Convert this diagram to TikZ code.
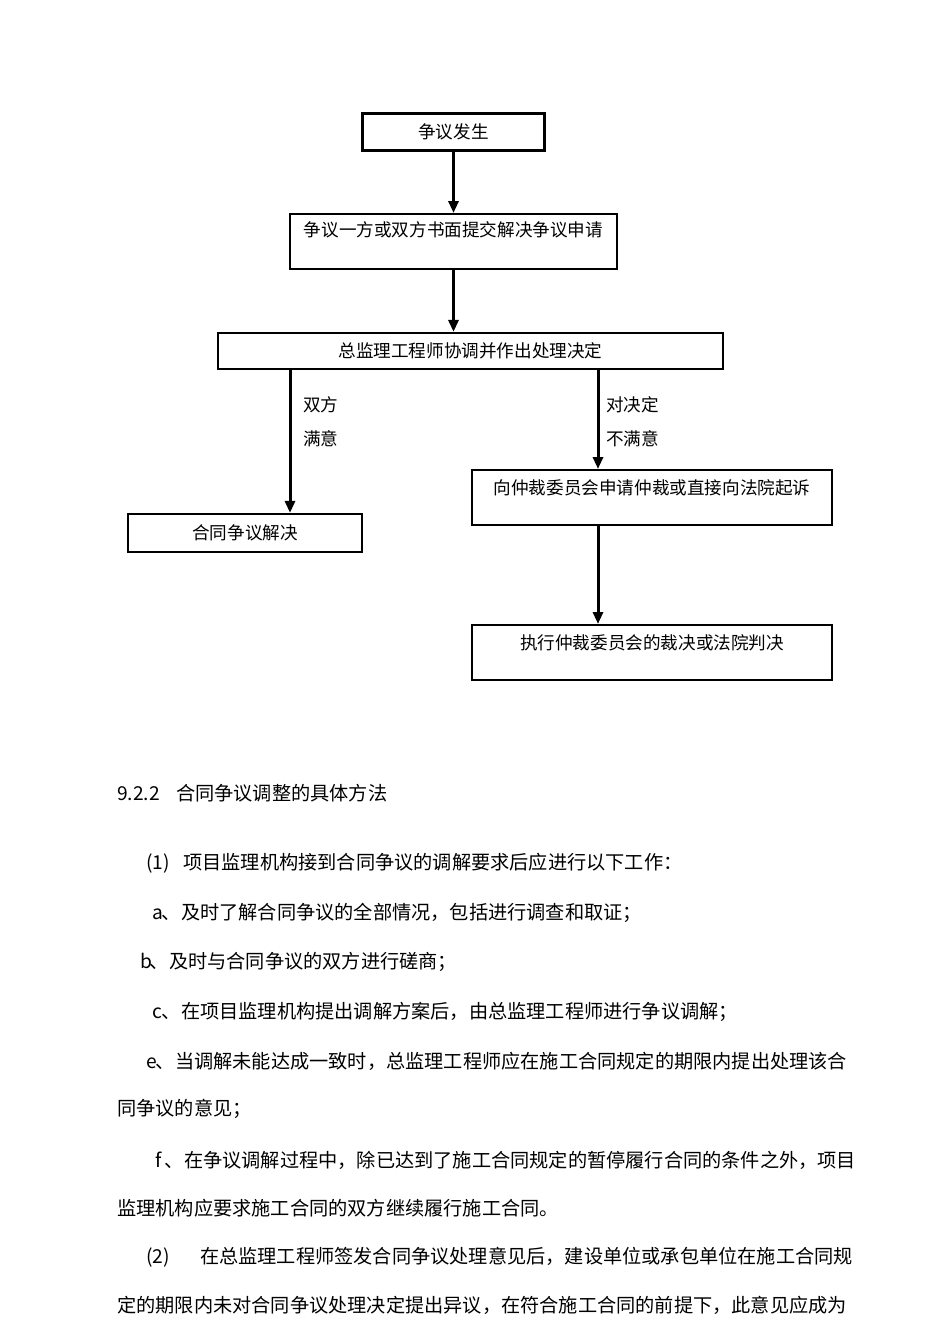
\documentclass[tikz,border=0pt]{standalone}
\usepackage{fontspec}
\setmainfont{Noto Sans CJK SC}
\usepackage{tikz}
\usetikzlibrary{arrows.meta, calc}
\newcommand{\chartfont}{\fontsize{17.6pt}{20pt}\selectfont}
\newcommand{\parafont}{\fontsize{19.2pt}{22pt}\selectfont}

\begin{document}
\begin{tikzpicture}[x=1pt, y=-1pt,
        box/.style={draw, line width=2.2pt, inner sep=0pt, font=\chartfont},
        boxc/.style={box, text height=13.4pt, text depth=0pt},
        arr/.style={-{Triangle[length=12pt,width=10pt]}, line width=3pt},
        lab/.style={anchor=west, inner sep=0pt, font=\chartfont, text height=13.4pt, text depth=0pt},
        textline/.style={anchor=west, inner sep=0pt, font=\parafont, text height=14.6pt, text depth=0pt}]
                \path[fill=white, use as bounding box] (0,0) rectangle (950,1344);

                \node[boxc, minimum width=182pt, minimum height=37pt] (A) at (453.5,132) {争议发生};
                \node[box, anchor=north, minimum width=327pt, text height=22.7pt, text depth=32.3pt] (B) at (453.5,213) {争议一方或双方书面提交解决争议申请};
                \node[boxc, minimum width=505pt, minimum height=36pt] (C) at (470.5,351) {总监理工程师协调并作出处理决定};
                \node[boxc, minimum width=234pt, minimum height=38pt] (D) at (245,533) {合同争议解决};
                \node[box, anchor=north, minimum width=360pt, text height=24pt, text depth=31pt] (E) at (652,469) {向仲裁委员会申请仲裁或直接向法院起诉};
                \node[box, anchor=north, minimum width=360pt, text height=24pt, text depth=31pt] (F) at (652,624) {执行仲裁委员会的裁决或法院判决};

                \coordinate (PL) at (290,0);
                \coordinate (PR) at (598,0);

                \draw[arr] (A.south) -- (B.north);
                \draw[arr] (B.south) -- (B.south |- C.north);
                \draw[arr] (C.south -| PL) -- (D.north -| PL);
                \draw[arr] (C.south -| PR) -- (E.north -| PR);
                \draw[arr] (E.south -| PR) -- (F.north -| PR);

                \node[lab] (G1) at (303,405) {双方};
                \node[lab] (G2) at (303,439) {满意};
                \node[lab] (H1) at (606,405) {对决定};
                \node[lab] (H2) at (606,439) {不满意};

                % tekst ispod dijagrama
                \node[textline] (T1) at (117,793) {\makebox[59pt][l]{9.2.2}合同争议调整的具体方法};
                \node[textline] (T2) at (146,862) {\makebox[37pt][l]{(1)}项目监理机构接到合同争议的调解要求后应进行以下工作：};
                \node[textline] (T3) at (152,912) {\makebox[9.6pt][l]{a}、及时了解合同争议的全部情况，包括进行调查和取证；};
                \node[textline] (T4) at (140,961) {\makebox[9.6pt][l]{b}、及时与合同争议的双方进行磋商；};
                \node[textline] (T5) at (152,1011) {\makebox[9.6pt][l]{c}、在项目监理机构提出调解方案后，由总监理工程师进行争议调解；};
                \node[textline] (T6) at (146,1061) {\makebox[9.6pt][l]{e}、当调解未能达成一致时，总监理工程师应在施工合同规定的期限内提出处理该合};
                \node[textline] (T7) at (117,1108) {同争议的意见；};
                \node[textline] (T8) at (155,1160) {\makebox[9.6pt][l]{f}、在争议调解过程中，除已达到了施工合同规定的暂停履行合同的条件之外，项目};
                \node[textline] (T9) at (117,1208) {监理机构应要求施工合同的双方继续履行施工合同。};
                \node[textline] (T10) at (146,1256) {\makebox[54pt][l]{(2)}在总监理工程师签发合同争议处理意见后，建设单位或承包单位在施工合同规};
                \node[textline] (T11) at (117,1305) {定的期限内未对合同争议处理决定提出异议，在符合施工合同的前提下，此意见应成为};
            \end{tikzpicture}
\end{document}
